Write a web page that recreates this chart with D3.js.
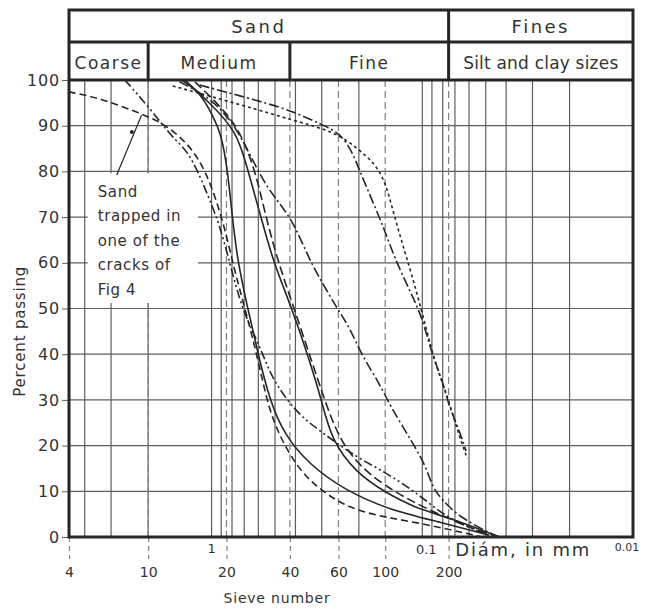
<!DOCTYPE html>
<html><head><meta charset="utf-8">
<script src="https://cdn.jsdelivr.net/npm/d3@7"></script>
<style>
body{margin:0;background:#fff;}
svg{display:block;font-family:"DejaVu Sans",sans-serif;}
</style></head>
<body><svg id="c" width="646" height="608"></svg>
<script>
// ---------- data ----------
const yTicks=[0,10,20,30,40,50,60,70,80,90,100];
const gridDiameters=[4,3,2,1,0.9,0.8,0.7,0.6,0.5,0.4,0.3,0.2,0.1,0.09,0.08,0.07,0.06,0.05,0.04,0.03,0.02];
const sieveNumbers=["4","10","20","40","60","100","200"];
const sieveOpenings=[4.75,2.0,0.85,0.425,0.25,0.15,0.075];
const diamLabels=["1","0.1","0.01"];
const diamValues=[1,0.1,0.01];
const bandLabels=["Sand","Fines"];
const bandEdges=[[4.75,0.075],[0.075,0.01]];
const subBandLabels=["Coarse","Medium","Fine","Silt and clay sizes"];
const subBandEdges=[[4.75,2.0],[2.0,0.425],[0.425,0.075],[0.075,0.01]];
const noteLines=["Sand","trapped in","one of the","cracks of","Fig 4"];

// [diameter mm, percent passing]
const curveTrapped=[[4.76,97.4],[3.40,96.1],[2.15,92.6],[1.67,90.4],[1.27,85.8],[1.06,79.9],[0.917,71.6],[0.840,65.0],[0.778,58.4],[0.698,50.3],[0.612,40.3],[0.548,30.0],[0.492,23.4],[0.395,15.3],[0.308,10.3],[0.206,5.3],[0.107,3.3],[0.052,0]];
const curveB=[[2.58,100],[1.97,93.9],[1.53,87.3],[1.31,84.7],[1.14,79.2],[1.02,73.7],[0.917,68.3],[0.822,60.2],[0.737,51.9],[0.661,46.4],[0.573,40.3],[0.514,34.4],[0.395,27.1],[0.298,22.8],[0.206,17.5],[0.148,14.0],[0.115,10.7],[0.0926,7.4],[0.0769,4.4],[0.0537,1.1],[0.0466,0]];
const curveS1=[[1.39,100],[1.14,97.4],[0.989,92.3],[0.897,88.0],[0.840,80.3],[0.804,71.6],[0.753,60.2],[0.675,50.3],[0.605,40.5],[0.531,30.0],[0.451,22.3],[0.343,15.8],[0.234,10.3],[0.143,5.9],[0.083,3.3],[0.0481,0.4]];
const curveS2=[[1.34,100],[1.02,95.0],[0.761,88.8],[0.683,81.4],[0.593,71.3],[0.514,60.6],[0.413,49.7],[0.343,38.7],[0.301,30.0],[0.270,21.2],[0.206,14.0],[0.148,9.6],[0.107,6.3],[0.0769,4.4],[0.0481,0.9],[0.0432,0]];
const curveS3=[[1.20,99.6],[0.849,93.0],[0.698,86.9],[0.605,78.1],[0.561,71.3],[0.487,60.6],[0.404,49.7],[0.336,38.7],[0.291,30.0],[0.247,21.2],[0.192,14.7],[0.133,9.6],[0.0926,5.9],[0.0598,2.0],[0.0432,0]];
const curveD=[[1.42,99.6],[0.968,95.6],[0.737,88.6],[0.593,79.2],[0.492,73.7],[0.413,69.4],[0.343,60.6],[0.298,55.6],[0.256,50.3],[0.222,46.0],[0.192,39.4],[0.160,33.7],[0.143,28.9],[0.111,20.6],[0.0957,15.3],[0.0897,10.9],[0.0804,8.1],[0.0668,4.4],[0.0481,0.9],[0.0432,0]];
const curveR1=[[1.14,98.9],[0.593,95.4],[0.413,93.2],[0.298,90.2],[0.247,88.4],[0.217,84.7],[0.199,80.3],[0.173,73.7],[0.151,67.2],[0.136,61.3],[0.115,54.0],[0.100,48.1],[0.0906,40.3],[0.0804,34.4],[0.0745,28.4],[0.0668,23.4],[0.0620,18.8]];
const curveR2=[[1.53,98.7],[0.713,94.5],[0.413,91.2],[0.256,88.6],[0.199,84.7],[0.169,81.8],[0.151,78.1],[0.140,72.6],[0.129,66.7],[0.119,61.3],[0.106,53.4],[0.0946,44.6],[0.0849,36.5],[0.0762,31.1],[0.0683,23.4],[0.0612,17.2]];
const noteArrow=[[2.82,79.2],[2.15,92.3]];
const noteDot=[2.39,88.6];

const seriesList=[curveTrapped,curveB,curveS1,curveS2,curveS3,curveD,curveR1,curveR2];
const seriesDash=["7,4","9,3,2,3,2,3","none","none","9,4","10,3,2,3","10,3,2,3","3,3"];

// ---------- layout ----------
const L=69,R=633,T=80,B=537,HT=10,HM=42;
const svg=d3.select("#c");
const x=d3.scaleLog().domain([4.75,0.01]).range([L,R]);
const y=d3.scaleLinear().domain([0,100]).range([B,T]);
const ink="#262626", grid="#5e5e5e";

// grid
const g=svg.append("g");
g.selectAll("line.v").data(gridDiameters).join("line")
  .attr("x1",d=>x(d)).attr("x2",d=>x(d)).attr("y1",T).attr("y2",B)
  .attr("stroke",grid).attr("stroke-width",1.2);
g.selectAll("line.h").data(yTicks).join("line")
  .attr("x1",L).attr("x2",R).attr("y1",d=>y(d)).attr("y2",d=>y(d))
  .attr("stroke",grid).attr("stroke-width",1.2);

// sieve dashed lines + bottom axis
g.selectAll("line.s").data(sieveOpenings).join("line")
  .attr("x1",d=>x(d)).attr("x2",d=>x(d)).attr("y1",T).attr("y2",B)
  .attr("stroke","#808080").attr("stroke-width",1.2).attr("stroke-dasharray","7,4");
const ax=svg.append("g").attr("transform",`translate(0,${B})`)
  .call(d3.axisBottom(x).tickValues(sieveOpenings).tickFormat((d,i)=>sieveNumbers[i]).tickSize(22).tickPadding(8));
ax.select(".domain").remove();
ax.selectAll(".tick line").attr("stroke","#808080").attr("stroke-width",1.2).attr("stroke-dasharray","5,4");
ax.selectAll(".tick text").attr("font-size",14).attr("fill","#333").attr("font-family","DejaVu Sans");

// annotation background box and text
const note=svg.append("g");
const nx=x(3.47), ny=y(74.4);
const noteBg=note.append("rect").attr("fill","#fff");
const nt=note.append("text").attr("font-size",15).attr("fill","#333").attr("letter-spacing",0.6);
noteLines.forEach((t,i)=>nt.append("tspan").attr("x",nx).attr("y",ny+i*24.5).text(t));
const bb=nt.node().getBBox();
noteBg.attr("x",bb.x-10).attr("y",y(80)+2).attr("width",x(1.16)-bb.x+10).attr("height",bb.y+bb.height+4-(y(80)+2));

// curves
const line=d3.line().x(d=>x(d[0])).y(d=>y(d[1])).curve(d3.curveBasis);
svg.append("defs").append("clipPath").attr("id","pc").append("rect").attr("x",L).attr("y",T).attr("width",R-L).attr("height",B-T);
svg.append("g").attr("clip-path","url(#pc)").selectAll("path").data(seriesList).join("path")
  .attr("d",line).attr("fill","none").attr("stroke",ink).attr("stroke-width",1.6)
  .attr("stroke-dasharray",(d,i)=>seriesDash[i]);

// annotation arrow
svg.append("path").attr("d",d3.line().x(d=>x(d[0])).y(d=>y(d[1]))(noteArrow))
  .attr("stroke",ink).attr("stroke-width",1.2).attr("fill","none");
svg.append("circle").attr("cx",x(noteDot[0])).attr("cy",y(noteDot[1])).attr("r",2).attr("fill",ink);

// y axis
const ay=svg.append("g").attr("transform",`translate(${L},0)`)
  .call(d3.axisLeft(y).tickValues(yTicks).tickSize(7).tickPadding(2));
ay.select(".domain").remove();
ay.selectAll(".tick line").attr("stroke",grid);
ay.selectAll(".tick text").attr("font-size",16).attr("fill","#333").attr("font-family","DejaVu Sans").attr("letter-spacing",0.8);

// header
const hg=svg.append("g");
hg.selectAll("text.b").data(bandLabels).join("text")
  .attr("x",(d,i)=>(x(bandEdges[i][0])+x(bandEdges[i][1]))/2).attr("y",33)
  .attr("text-anchor","middle").attr("font-size",18).attr("letter-spacing",2.5).attr("fill","#333").text(d=>d);
hg.selectAll("text.s").data(subBandLabels).join("text")
  .attr("x",(d,i)=>(x(subBandEdges[i][0])+x(subBandEdges[i][1]))/2).attr("y",69)
  .attr("text-anchor","middle").attr("font-size",17).attr("letter-spacing",(d,i)=>i==3?0.2:1.5).attr("fill","#333").text(d=>d);
// header dividers
hg.append("line").attr("x1",L).attr("x2",R).attr("y1",HM).attr("y2",HM).attr("stroke",ink).attr("stroke-width",3);
hg.append("line").attr("x1",x(0.075)).attr("x2",x(0.075)).attr("y1",HT).attr("y2",T).attr("stroke",ink).attr("stroke-width",3);
hg.selectAll("line.d").data([2.0,0.425]).join("line")
  .attr("x1",d=>x(d)).attr("x2",d=>x(d)).attr("y1",HM).attr("y2",T).attr("stroke",ink).attr("stroke-width",3);
hg.append("line").attr("x1",L).attr("x2",R).attr("y1",T).attr("y2",T).attr("stroke",ink).attr("stroke-width",3);
// outer frame
svg.append("rect").attr("x",L).attr("y",HT).attr("width",R-L).attr("height",B-HT)
  .attr("fill","none").attr("stroke",ink).attr("stroke-width",3);

// diameter labels
const dl=svg.append("g");
dl.selectAll("text").data(diamValues).join("text")
  .attr("x",(d,i)=>x(d)+[0,4,-6][i]).attr("y",(d,i)=>[553,554,551][i])
  .attr("text-anchor","middle").attr("font-size",(d,i)=>[13,13,11][i]).attr("fill","#333")
  .text((d,i)=>diamLabels[i]);
svg.append("text").attr("x",x(0.1)+33).attr("y",556).attr("font-size",18).attr("letter-spacing",1.8).attr("fill","#333").text("Diám, in mm");
svg.append("text").attr("x",277).attr("y",603).attr("text-anchor","middle").attr("font-size",14).attr("letter-spacing",0.8).attr("fill","#333").text("Sieve number");
svg.append("text").attr("transform",`translate(25,${(y(20)+y(70))/2}) rotate(-90)`).attr("text-anchor","middle")
  .attr("font-size",15).attr("letter-spacing",0.8).attr("fill","#333").text("Percent passing");
</script></body></html>
